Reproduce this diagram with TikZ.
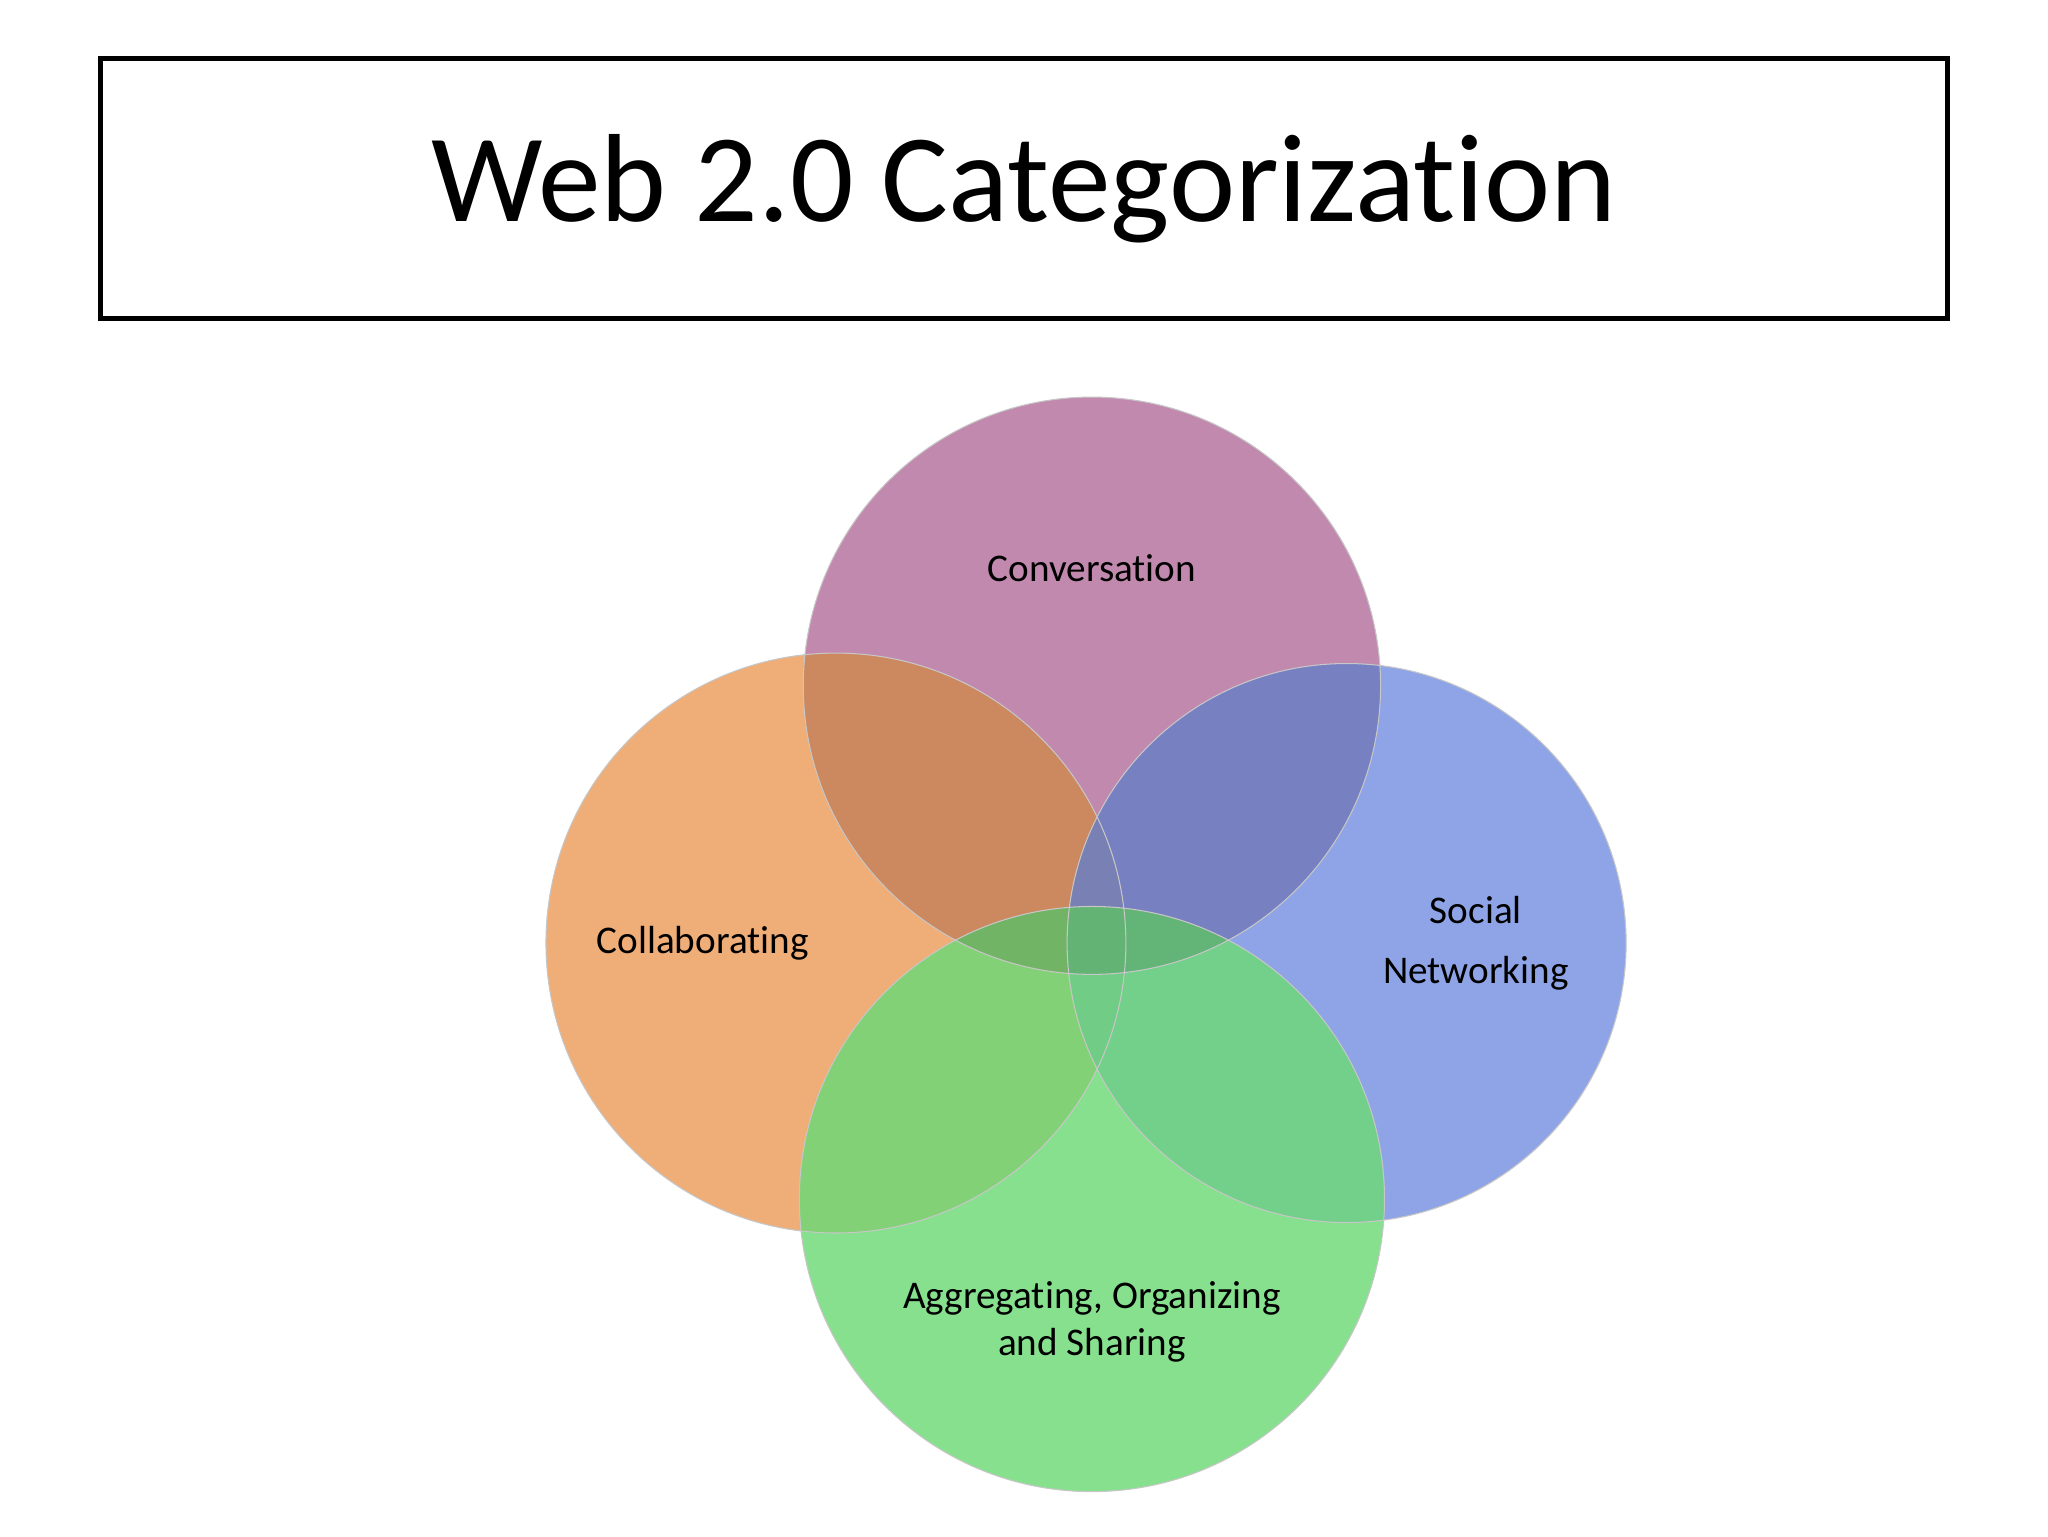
\documentclass[tikz,border=0pt]{standalone}
\usepackage{fontspec}
\setmainfont[Ligatures={NoCommon,NoRare}]{Carlito}
\begin{document}
\begin{tikzpicture}[x=1pt,y=-1pt,
  circ/.style={fill opacity=0.82},
  lab/.style={font=\fontsize{30}{36}\selectfont,align=center,text=black}]
\useasboundingbox (0,0) rectangle (1568,1176);
\fill[white] (0,0) rectangle (1568,1176);
\node[draw,line width=4pt,minimum width=1414pt,minimum height=199pt,inner sep=0pt,
  font=\fontsize{96}{110}\selectfont] (title) at (784,144.5) {Web 2.0 Categorization};
\definecolor{cpink}{RGB}{214,135,188}
\definecolor{corange}{RGB}{236,155,90}
\definecolor{cblue}{RGB}{118,145,225}
\definecolor{cgreen}{RGB}{108,218,118}
\fill[circ,fill=cpink] (836,525) circle (221);
\fill[circ,fill=corange] (640,722) circle (222);
\fill[circ,fill=cblue] (1031,722) circle (214);
\fill[circ,fill=cgreen] (836,918) circle (224);
\fill[fill=black,fill opacity=0.12] (836,525) circle (221);
\draw[black!22,line width=0.8pt] (836,525) circle (221) (640,722) circle (222) (1031,722) circle (214) (836,918) circle (224);
\node[lab] (conv) at (836,435) {Conversation};
\node[lab] (coll) at (538,722) {Collaborating};
\node[lab,font=\fontsize{30}{46}\selectfont] (soc) at (1130,722) {Social\\Networking};
\node[lab] (agg) at (836,1012) {Aggregating, Organizing\\and Sharing};
\end{tikzpicture}
\end{document}
